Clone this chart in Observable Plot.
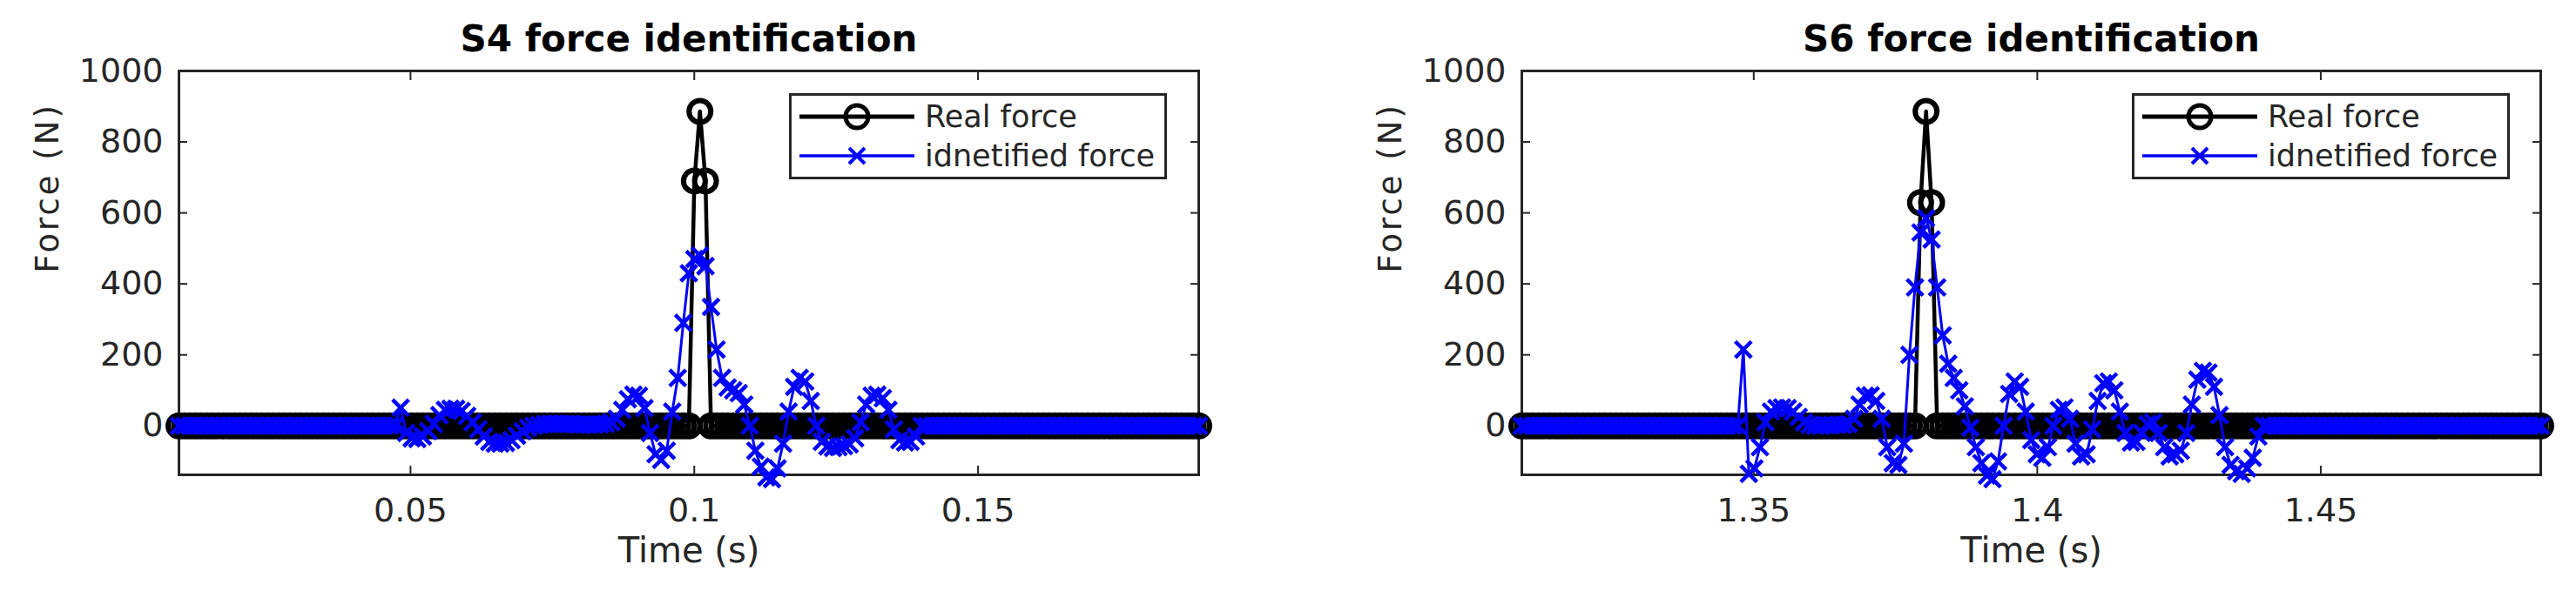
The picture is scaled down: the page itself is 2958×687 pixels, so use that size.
<!DOCTYPE html>
<html><head><meta charset="utf-8">
<script src="https://cdn.jsdelivr.net/npm/d3@7"></script>
<script src="https://cdn.jsdelivr.net/npm/@observablehq/plot@0.6"></script>
<style>
html,body{margin:0;padding:0;background:#fff;}
#fig{position:relative;width:2958px;height:687px;overflow:hidden;background:#fff;font-family:"DejaVu Sans",sans-serif;}
.panel{position:absolute;top:0;}
.legend{position:absolute;top:107px;}
</style></head><body><div id="fig"></div>
<script>
// ---- data ----
const sampleStep = 1/1024;          // s
const s4Start = 0.0092;             // s
const s6Start = 1.3091;             // s
const titles = ["S4 force identification", "S6 force identification"];
const seriesNames = ["Real force", "idnetified force"];
const xLabel = "Time (s)";
const yLabel = "Force (N)";
const yTicks = [0, 200, 400, 600, 800, 1000];
const yTickLabels = ["0", "200", "400", "600", "800", "1000"];
const s4XTicks = [0.05, 0.1, 0.15];
const s4XTickLabels = ["0.05", "0.1", "0.15"];
const s6XTicks = [1.35, 1.4, 1.45];
const s6XTickLabels = ["1.35", "1.4", "1.45"];
const yDomain = [-138, 1000];

const s4Real = [
0,0,0,0,0,0,0,0,0,0,0,0,0,0,0,0,0,0,0,0,
0,0,0,0,0,0,0,0,0,0,0,0,0,0,0,0,0,0,0,0,
0,0,0,0,0,0,0,0,0,0,0,0,0,0,0,0,0,0,0,0,
0,0,0,0,0,0,0,0,0,0,0,0,0,0,0,0,0,0,0,0,
0,0,0,0,0,0,0,0,0,0,0,0,0,690,886,690,0,0,0,0,
0,0,0,0,0,0,0,0,0,0,0,0,0,0,0,0,0,0,0,0,
0,0,0,0,0,0,0,0,0,0,0,0,0,0,0,0,0,0,0,0,
0,0,0,0,0,0,0,0,0,0,0,0,0,0,0,0,0,0,0,0,
0,0,0,0,0,0,0,0,0,0,0,0,0,0,0,0,0,0,0,0,
0,0,0,0,0];

const s4Identified = [
0,0,0,0,0,0,0,0,0,0,0,0,0,0,0,0,0,0,0,0,
0,0,0,0,0,0,0,0,0,0,0,0,0,0,0,0,0,0,0,0,
51,-20,-35,-37,-30,-15,5,30,45,48,48,42,28,10,-10,-30,-45,-50,-50,-48,
-40,-28,-15,-5,0,3,5,6,6,5,5,5,4,4,3,3,4,6,10,20,
45,75,88,85,50,-20,-80,-96,-70,40,135,290,430,470,480,450,335,215,135,108,
100,92,60,0,-70,-115,-145,-150,-120,-50,40,110,135,125,70,0,-45,-58,-62,-60,
-57,-52,-35,10,60,85,88,78,45,-10,-40,-47,-45,-30,0,0,0,0,0,0,
0,0,0,0,0,0,0,0,0,0,0,0,0,0,0,0,0,0,0,0,
0,0,0,0,0,0,0,0,0,0,0,0,0,0,0,0,0,0,0,0,
0,0,0,0,0];

const s6Real = [
0,0,0,0,0,0,0,0,0,0,0,0,0,0,0,0,0,0,0,0,
0,0,0,0,0,0,0,0,0,0,0,0,0,0,0,0,0,0,0,0,
0,0,0,0,0,0,0,0,0,0,0,0,0,0,0,0,0,0,0,0,
0,0,0,0,0,0,0,0,0,0,0,0,629,886,629,0,0,0,0,0,
0,0,0,0,0,0,0,0,0,0,0,0,0,0,0,0,0,0,0,0,
0,0,0,0,0,0,0,0,0,0,0,0,0,0,0,0,0,0,0,0,
0,0,0,0,0,0,0,0,0,0,0,0,0,0,0,0,0,0,0,0,
0,0,0,0,0,0,0,0,0,0,0,0,0,0,0,0,0,0,0,0,
0,0,0,0,0,0,0,0,0,0,0,0,0,0,0,0,0,0,0,0,
0,0,0,0,0];

const s6Identified = [
0,0,0,0,0,0,0,0,0,0,0,0,0,0,0,0,0,0,0,0,
0,0,0,0,0,0,0,0,0,0,0,0,0,0,0,0,0,0,0,0,
215,-135,-120,-60,10,40,50,52,50,40,25,10,3,0,0,2,3,3,2,5,
20,60,85,86,70,20,-60,-105,-110,-50,200,390,545,585,525,390,255,175,135,100,
55,-5,-60,-105,-140,-150,-100,0,90,125,110,40,-40,-80,-90,-60,0,45,52,20,
-50,-86,-80,-10,70,120,125,100,40,-20,-47,-45,-20,5,10,-20,-60,-86,-80,-70,
-20,60,130,155,150,110,30,-60,-110,-128,-135,-120,-90,-30,0,0,0,0,0,0,
0,0,0,0,0,0,0,0,0,0,0,0,0,0,0,0,0,0,0,0,
0,0,0,0,0,0,0,0,0,0,0,0,0,0,0,0,0,0,0,0,
0,0,0,0,0];

// ---- drawing ----
const INK = "#262626";
const BLUE = "#0000ff";
const PW = 1479, PH = 687;

function panel({start, real, ident, xTicks, xTickLabels, title, mLeft, mRight}) {
  const rows = (arr) => arr.map((v, i) => ({t: start + i * sampleStep, v}));
  const realData = rows(real), identData = rows(ident);
  const xDomain = [start, start + (real.length - 1) * sampleStep];
  const xfmt = (d) => xTickLabels[xTicks.indexOf(d)] ?? "";
  const yfmt = (d) => yTickLabels[yTicks.indexOf(d)] ?? "";
  const svg = Plot.plot({
    width: PW, height: PH,
    marginLeft: mLeft, marginRight: mRight, marginTop: 81, marginBottom: 142,
    x: {domain: xDomain, ticks: xTicks},
    y: {domain: yDomain, ticks: yTicks},
    style: {fontFamily: "'DejaVu Sans', sans-serif", fontSize: "38px", color: INK, background: "transparent", overflow: "visible"},
    marks: [
      Plot.frame({stroke: INK, strokeWidth: 3}),
      Plot.axisY({ticks: yTicks, anchor: "left", tickSize: 10, dx: 10, tickFormat: () => "", label: null, strokeWidth: 2}),
      Plot.axisY({ticks: yTicks, anchor: "right", tickSize: 10, dx: -10, tickFormat: () => "", label: null, strokeWidth: 2}),
      Plot.axisX({ticks: xTicks, anchor: "bottom", tickSize: 10, dy: -10, tickFormat: () => "", label: null, strokeWidth: 2}),
      Plot.axisX({ticks: xTicks, anchor: "top", tickSize: 10, dy: 10, tickFormat: () => "", label: null, strokeWidth: 2}),
      Plot.axisY({ticks: yTicks, anchor: "left", tickSize: 0, tickPadding: 18, tickFormat: yfmt, label: null, fontSize: 38}),
      Plot.axisX({ticks: xTicks, anchor: "bottom", tickSize: 0, tickPadding: 27, tickFormat: xfmt, label: null, fontSize: 38}),
      Plot.text([title], {frameAnchor: "top", dy: -36, fontSize: 42, fontWeight: "bold", fill: "#000", lineAnchor: "middle"}),
      Plot.text([xLabel], {frameAnchor: "bottom", dy: 88, fontSize: 40, fill: INK, lineAnchor: "middle"}),
      Plot.text([yLabel], {frameAnchor: "left", dx: -150, rotate: -90, fontSize: 37, fill: INK, lineAnchor: "middle", className: "ylab"}),
      Plot.line(realData, {x: "t", y: "v", stroke: "#000", strokeWidth: 4.5}),
      Plot.dot(realData, {x: "t", y: "v", r: 12.5, stroke: "#000", strokeWidth: 6, fill: "none"}),
      Plot.line(identData, {x: "t", y: "v", stroke: BLUE, strokeWidth: 3}),
      Plot.dot(identData, {x: "t", y: "v", symbol: "times", r: 8.5, stroke: BLUE, strokeWidth: 4.5})
    ]
  });
  d3.select(svg).selectAll(".ylab text").style("letter-spacing", "3px");
  return svg;
}

function legend(left) {
  const svg = d3.create("svg").attr("class", "legend").attr("width", 434).attr("height", 99)
    .style("left", (left - 1) + "px");
  svg.append("rect").attr("x", 1.5).attr("y", 1.5).attr("width", 431).attr("height", 96)
    .attr("fill", "#fff").attr("stroke", INK).attr("stroke-width", 3);
  // real force sample
  svg.append("line").attr("x1", 12).attr("x2", 144).attr("y1", 27).attr("y2", 27).attr("stroke", "#000").attr("stroke-width", 5);
  svg.append("circle").attr("cx", 78).attr("cy", 27).attr("r", 13).attr("fill", "none").attr("stroke", "#000").attr("stroke-width", 5);
  // identified sample
  svg.append("line").attr("x1", 12).attr("x2", 144).attr("y1", 72).attr("y2", 72).attr("stroke", BLUE).attr("stroke-width", 3.5);
  svg.append("path").attr("d", "M69,63L87,81M69,81L87,63").attr("stroke", BLUE).attr("stroke-width", 4);
  svg.selectAll("text.lab").data(seriesNames).join("text")
    .attr("x", 156).attr("y", (d, i) => 39 + i * 45)
    .attr("font-family", "'DejaVu Sans', sans-serif").attr("font-size", 35).attr("fill", INK)
    .text(d => d);
  return svg.node();
}

const fig = document.getElementById("fig");
const p1 = panel({start: s4Start, real: s4Real, ident: s4Identified, xTicks: s4XTicks, xTickLabels: s4XTickLabels, title: titles[0], mLeft: 205, mRight: PW - 1376});
p1.classList.add("panel"); p1.style.left = "0px";
fig.appendChild(p1);
const p2 = panel({start: s6Start, real: s6Real, ident: s6Identified, xTicks: s6XTicks, xTickLabels: s6XTickLabels, title: titles[1], mLeft: 1747 - PW, mRight: PW - (2917 - PW)});
p2.classList.add("panel"); p2.style.left = PW + "px";
fig.appendChild(p2);
fig.appendChild(legend(907));
fig.appendChild(legend(2449));
</script>
</body></html>
